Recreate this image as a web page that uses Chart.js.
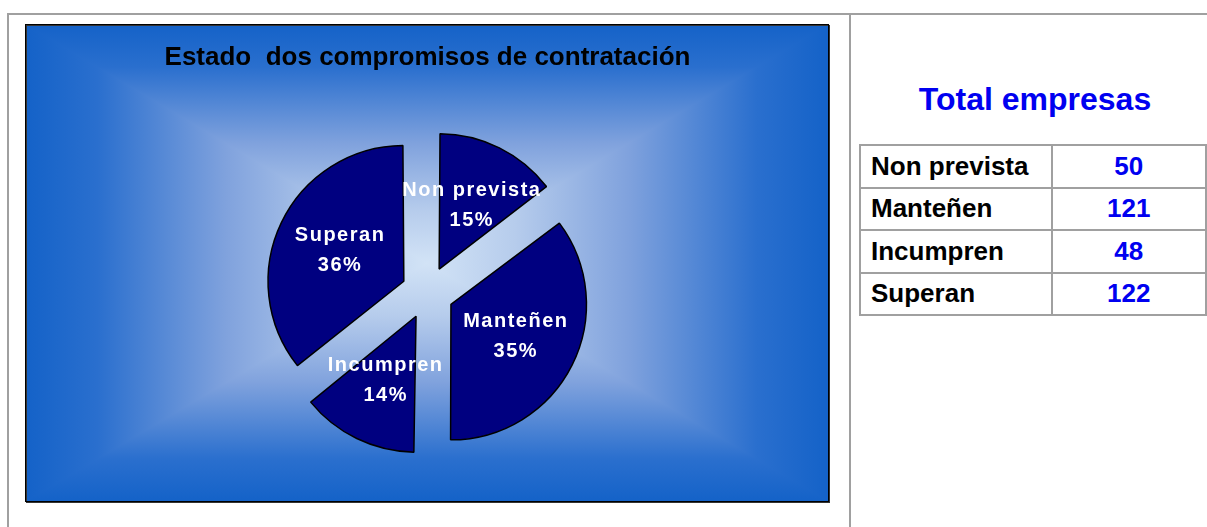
<!DOCTYPE html>
<html>
<head>
<meta charset="utf-8">
<script src="https://cdn.jsdelivr.net/npm/chart.js@4.4.0/dist/chart.umd.min.js"></script>
<style>
  body { margin: 0; background: #fff; font-family: "Liberation Sans", Arial, sans-serif; }
  #page { position: relative; width: 1207px; height: 527px; overflow: hidden; }
  .line { position: absolute; background: #a0a0a0; }
  #panel { position: absolute; left: 25px; top: 24px; }
  #total { position: absolute; left: 860px; top: 80px; width: 350px; text-align: center;
           color: #0000f0; font-weight: bold; font-size: 32px; line-height: 38px; }
  #tabla { position: absolute; left: 859px; top: 144px; border-collapse: collapse;
           table-layout: fixed; font-size: 26px; font-weight: bold; }
  #tabla td { border: 2px solid #a0a0a0; height: 40.5px; padding: 0 10px; white-space: nowrap; }
  #tabla td.val { text-align: center; color: #0000f0; }
</style>
</head>
<body>
<div id="page">
  <div class="line" style="left:7px;top:13px;width:1200px;height:2px"></div>
  <div class="line" style="left:7px;top:13px;width:2px;height:514px"></div>
  <div class="line" style="left:849px;top:13px;width:2px;height:514px"></div>
  <canvas id="panel" width="805" height="479"></canvas>
  <div id="total">Total empresas</div>
  <table id="tabla">
    <colgroup><col style="width:192px"><col style="width:158px"></colgroup>
    <tbody id="tablaBody"></tbody>
  </table>
</div>
<script>
// datos do gráfico
const categorias = ["Non prevista", "Manteñen", "Incumpren", "Superan"];
const empresas = [50, 121, 48, 122];
const titulo = "Estado  dos compromisos de contratación";

// tamaño do panel azul (altura sen a marxe inferior do canvas)
const PANEL_W = 804;
const PANEL_H = 478;

// fondo degradado rectangular (escuro nos bordes, claro no centro)
const stops = [
  [0, "#1462c8"],
  [0.18, "#2a6fce"],
  [0.5, "#80a2dd"],
  [0.78, "#b6ccec"],
  [1, "#d2e3f6"],
];

function addStops(g) {
  stops.forEach((s) => g.addColorStop(s[0], s[1]));
}

const panelBg = {
  id: "panelBg",
  beforeDraw(chart) {
    const ctx = chart.ctx;
    const cx = PANEL_W / 2;
    const cy = PANEL_H / 2;
    ctx.save();
    // lados esquerdo e dereito
    const gl = ctx.createLinearGradient(0, 0, cx, 0);
    addStops(gl);
    ctx.fillStyle = gl;
    ctx.fillRect(0, 0, cx, PANEL_H);
    const gr = ctx.createLinearGradient(PANEL_W, 0, cx, 0);
    addStops(gr);
    ctx.fillStyle = gr;
    ctx.fillRect(cx, 0, PANEL_W - cx, PANEL_H);
    // arriba e abaixo (triángulos)
    const gt = ctx.createLinearGradient(0, 0, 0, cy);
    addStops(gt);
    ctx.fillStyle = gt;
    ctx.beginPath();
    ctx.moveTo(0, 0);
    ctx.lineTo(PANEL_W, 0);
    ctx.lineTo(cx, cy);
    ctx.closePath();
    ctx.fill();
    const gb = ctx.createLinearGradient(0, PANEL_H, 0, cy);
    addStops(gb);
    ctx.fillStyle = gb;
    ctx.beginPath();
    ctx.moveTo(0, PANEL_H);
    ctx.lineTo(PANEL_W, PANEL_H);
    ctx.lineTo(cx, cy);
    ctx.closePath();
    ctx.fill();
    // bordo
    ctx.strokeStyle = "#333";
    ctx.lineWidth = 1;
    ctx.strokeRect(1.5, 1.5, PANEL_W - 1, PANEL_H - 1);
    ctx.strokeStyle = "#000";
    ctx.strokeRect(0.5, 0.5, PANEL_W - 1, PANEL_H - 1);
    ctx.restore();
  },
};

// etiquetas dentro de cada porción
const sliceLabels = {
  id: "sliceLabels",
  afterDatasetsDraw(chart) {
    const ctx = chart.ctx;
    const meta = chart.getDatasetMeta(0);
    const total = empresas.reduce((a, b) => a + b, 0);
    ctx.save();
    ctx.fillStyle = "#fff";
    ctx.font = "bold 20px 'Liberation Sans', Arial, sans-serif";
    ctx.letterSpacing = "1.5px";
    ctx.textAlign = "center";
    ctx.textBaseline = "middle";
    meta.data.forEach((arc, i) => {
      const p = arc.getProps(["x", "y", "startAngle", "endAngle", "outerRadius", "circumference"], true);
      const mid = (p.startAngle + p.endAngle) / 2;
      const off = (arc.options.offset || 0) / 4;
      const fix = 1 - Math.sin(Math.min(Math.PI, p.circumference));
      const d = off * (1 + fix) + p.outerRadius / 2 + 1;
      const x = p.x + Math.cos(mid) * d + 1;
      const y = p.y + Math.sin(mid) * d;
      const pct = Math.round((empresas[i] / total) * 100);
      ctx.fillText(categorias[i], x, y - 15);
      ctx.fillText(pct + "%", x, y + 15);
    });
    ctx.restore();
  },
};

const ctx = document.getElementById("panel").getContext("2d");
const pieChart = new Chart(ctx, {
  type: "pie",
  data: {
    labels: categorias,
    datasets: [
      {
        data: empresas,
        backgroundColor: "#000080",
        borderColor: "#000",
        borderWidth: 1.5,
        offset: 105,
        radius: 130,
      },
    ],
  },
  options: {
    responsive: false,
    animation: false,
    events: [],
    devicePixelRatio: 1,
    layout: { padding: { left: 0, right: 0, top: 0, bottom: 0 } },
    plugins: {
      legend: { display: false },
      tooltip: { enabled: false },
      title: {
        display: true,
        text: titulo,
        color: "#000",
        font: { family: "'Liberation Sans', Arial, sans-serif", size: 26, weight: "bold", lineHeight: 1.2 },
        padding: { top: 18, bottom: 9 },
      },
    },
  },
  plugins: [panelBg, sliceLabels],
});

// táboa da dereita
const tbody = document.getElementById("tablaBody");
let filas = "";
for (let i = 0; i < categorias.length; i++) {
  filas += "<tr><td>" + categorias[i] + "</td><td class=\"val\">" + empresas[i] + "</td></tr>";
}
tbody.innerHTML = filas;
</script>
</body>
</html>
